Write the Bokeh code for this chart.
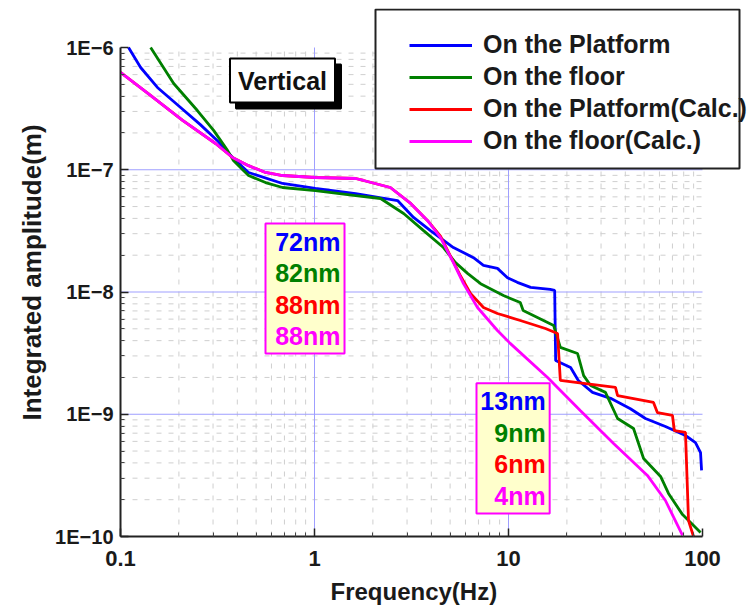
from bokeh.plotting import figure
from bokeh.models import (FixedTicker, CustomJSTickFormatter, Legend, LegendItem,
                          Label, BoxAnnotation, Title)
from bokeh.embed import file_html
from bokeh.resources import INLINE

# ---------------- data (frequency in Hz, integrated amplitude in m) ----------------
freq_platform = [0.110, 0.127, 0.155, 0.204, 0.258, 0.316, 0.382, 0.457, 0.684, 1.01,
                 1.63, 2.68, 3.24, 3.96, 5.20, 6.60, 7.43, 8.77, 9.88, 11.1,
                 13.0, 16.4, 17.3, 17.5, 20.9, 22.9, 27.1, 33.6, 42.5, 50.8,
                 64.4, 81.7, 92.0, 97.7, 98.9]
amp_platform = [1.0e-6, 6.86e-7, 4.71e-7, 3.23e-7, 2.34e-7, 1.73e-7, 1.24e-7, 9.50e-8, 7.72e-8, 7.03e-8,
                6.39e-8, 5.60e-8, 4.07e-8, 3.18e-8, 2.31e-8, 1.91e-8, 1.65e-8, 1.56e-8, 1.31e-8, 1.20e-8,
                1.09e-8, 1.05e-8, 1.03e-8, 2.75e-9, 2.41e-9, 1.89e-9, 1.51e-9, 1.35e-9, 1.11e-9, 9.23e-10,
                7.94e-10, 6.70e-10, 5.87e-10, 4.86e-10, 3.47e-10]

freq_floor = [0.143, 0.188, 0.249, 0.302, 0.356, 0.382, 0.457, 0.559, 0.684, 1.01,
              1.63, 2.19, 2.88, 3.65, 4.62, 5.33, 6.15, 7.18, 9.42, 11.5,
              11.9, 17.1, 18.5, 22.7, 24.4, 26.5, 31.6, 36.5, 44.1, 49.7,
              60.8, 66.8, 78.9, 97.7]
amp_floor = [1.0e-6, 5.08e-7, 3.05e-7, 2.10e-7, 1.44e-7, 1.19e-7, 8.97e-8, 7.86e-8, 7.16e-8, 6.76e-8,
             6.15e-8, 5.82e-8, 4.39e-8, 3.18e-8, 2.31e-8, 1.74e-8, 1.42e-8, 1.17e-8, 9.36e-9, 8.20e-9,
             7.06e-9, 5.32e-9, 3.52e-9, 3.14e-9, 2.07e-9, 1.72e-9, 1.51e-9, 9.23e-10, 7.64e-10, 4.35e-10,
             3.10e-10, 2.25e-10, 1.51e-10, 1.08e-10]

freq_platform_calc = [0.1, 0.139, 0.209, 0.309, 0.378, 0.457, 0.559, 0.684, 1.01, 1.63,
                      1.79, 2.46, 3.13, 3.82, 4.46, 5.66, 6.37, 7.43, 8.77, 11.5,
                      15.5, 17.9, 18.5, 24.4, 35.6, 36.5, 55.9, 58.6, 70.0, 71.6,
                      81.7, 84.7, 89.9]
amp_platform_calc = [6.25e-7, 4.20e-7, 2.53e-7, 1.64e-7, 1.26e-7, 1.08e-7, 9.50e-8, 8.97e-8, 8.64e-8, 8.48e-8,
                     8.17e-8, 7.16e-8, 5.30e-8, 3.85e-8, 2.86e-8, 1.35e-8, 9.72e-9, 7.47e-9, 6.67e-9, 5.85e-9,
                     5.03e-9, 4.58e-9, 1.89e-9, 1.79e-9, 1.66e-9, 1.42e-9, 1.25e-9, 1.03e-9, 9.77e-10, 7.36e-10,
                     7.10e-10, 1.35e-10, 1.0e-10]

freq_floor_calc = [0.1, 0.139, 0.209, 0.309, 0.378, 0.457, 0.559, 0.684, 1.01, 1.63,
                   1.79, 2.46, 3.13, 3.82, 4.46, 5.20, 5.86, 6.92, 8.77, 10.2,
                   15.9, 23.5, 34.8, 52.0, 64.4, 78.9]
amp_floor_calc = [6.25e-7, 4.20e-7, 2.53e-7, 1.64e-7, 1.26e-7, 1.08e-7, 9.50e-8, 8.97e-8, 8.64e-8, 8.48e-8,
                  8.17e-8, 7.16e-8, 5.30e-8, 3.85e-8, 2.79e-8, 1.74e-8, 1.17e-8, 7.47e-9, 4.84e-9, 3.80e-9,
                  2.00e-9, 1.07e-9, 5.77e-10, 3.16e-10, 1.97e-10, 1.02e-10]

series_names = ["On the Platform", "On the floor", "On the Platform(Calc.)", "On the floor(Calc.)"]
series_colors = ["#0000ff", "#008000", "#ff0000", "#ff00ff"]

rms_low = ["72nm", "82nm", "88nm", "88nm"]     # box near 1 Hz
rms_high = ["13nm", "9nm", "6nm", "4nm"]       # box near 10 Hz

x_major_ticks = [0.1, 1, 10, 100]
y_major_ticks = [1e-10, 1e-9, 1e-8, 1e-7, 1e-6]
x_minor_ticks = [k * 10.0 ** e for e in (-1, 0, 1) for k in range(2, 10)]
y_minor_ticks = [k * 10.0 ** e for e in (-10, -9, -8, -7) for k in range(2, 10)]
x_grid_major = [1, 10]
y_grid_major = [1e-9, 1e-8, 1e-7]

FONT = "Liberation Sans"
LINE_W = 2.8

# ---------------- geometry ----------------
# The frame is made large enough to hold the legend box (which in the original
# sits partly above/right of the axes); axes and grid are bounded to the data box.
FIG_W, FIG_H = 752, 612
BORDER_L, BORDER_R, BORDER_T, BORDER_B = 120, 4, 8, 76
FRAME_W = FIG_W - BORDER_L - BORDER_R
FRAME_H = FIG_H - BORDER_T - BORDER_B
PX_PER_DECADE_X, PX_PER_DECADE_Y = 194.0, 122.25
x_lo, y_lo = x_major_ticks[0], y_major_ticks[0]
x_hi = x_lo * 10 ** (FRAME_W / PX_PER_DECADE_X)
y_hi = y_lo * 10 ** (FRAME_H / PX_PER_DECADE_Y)


def fx(px):   # frame pixel (from left) -> frequency
    return x_lo * 10 ** (px / PX_PER_DECADE_X)


def fy(py):   # frame pixel (from bottom) -> amplitude
    return y_lo * 10 ** (py / PX_PER_DECADE_Y)


p = figure(width=FIG_W, height=FIG_H, x_axis_type="log", y_axis_type="log",
           x_range=(x_lo, x_hi), y_range=(y_lo, y_hi),
           output_backend="svg", toolbar_location=None,
           min_border_left=BORDER_L, min_border_right=BORDER_R,
           min_border_top=BORDER_T, min_border_bottom=BORDER_B)
p.outline_line_color = None
p.background_fill_color = "white"
p.border_fill_color = "white"
p.xgrid.visible = False
p.ygrid.visible = False

# ---------------- axes ----------------
for ax in (p.xaxis[0], p.yaxis[0]):
    ax.axis_line_color = "#222222"
    ax.axis_line_width = 2
    ax.major_tick_line_color = "#222222"
    ax.minor_tick_line_color = "#444444"
    ax.major_tick_line_width = 1.5
    ax.minor_tick_line_width = 1
    ax.major_tick_in = 8
    ax.major_tick_out = 0
    ax.minor_tick_in = 4
    ax.minor_tick_out = 0
    ax.major_label_text_font = FONT
    ax.major_label_text_font_style = "bold"
    ax.major_label_text_color = "#1a1a1a"
    ax.axis_label_text_font = FONT
    ax.axis_label_text_font_style = "bold"
    ax.axis_label_text_color = "#1a1a1a"

p.xaxis[0].major_label_text_font_size = "22px"
p.yaxis[0].major_label_text_font_size = "20px"
p.xaxis[0].bounds = (x_major_ticks[0], x_major_ticks[-1])
p.yaxis[0].bounds = (y_major_ticks[0], y_major_ticks[-1])
p.xaxis[0].ticker = FixedTicker(ticks=x_major_ticks, minor_ticks=x_minor_ticks)
p.yaxis[0].ticker = FixedTicker(ticks=y_major_ticks, minor_ticks=y_minor_ticks)
p.xaxis[0].formatter = CustomJSTickFormatter(code="return tick < 1 ? tick.toFixed(1) : tick.toFixed(0);")
p.yaxis[0].formatter = CustomJSTickFormatter(code="return '1E\u2212' + Math.round(-Math.log10(tick));")
p.xaxis[0].major_label_standoff = 14
p.yaxis[0].major_label_standoff = 7

p.yaxis[0].axis_label = "Integrated amplitude(m)"
p.yaxis[0].axis_label_text_font_size = "26px"
p.yaxis[0].axis_label_standoff = 5

x_title = Title(text="Frequency(Hz)", align="left", offset=210, standoff=14,
                text_font=FONT, text_font_size="24px", text_font_style="bold",
                text_color="#1a1a1a")
p.add_layout(x_title, "below")

# ---------------- grid (bounded to the data box) ----------------
xb0, xb1 = x_major_ticks[0], x_major_ticks[-1]
yb0, yb1 = y_major_ticks[0], y_major_ticks[-1]
p.segment(x0=x_minor_ticks, y0=[yb0] * len(x_minor_ticks), x1=x_minor_ticks, y1=[yb1] * len(x_minor_ticks),
          line_color="#cfcfcf", line_width=1, line_dash="5 7")
p.segment(x0=[xb0] * len(y_minor_ticks), y0=y_minor_ticks, x1=[xb1] * len(y_minor_ticks), y1=y_minor_ticks,
          line_color="#cfcfcf", line_width=1, line_dash="5 7")
p.segment(x0=x_grid_major, y0=[yb0] * len(x_grid_major), x1=x_grid_major, y1=[yb1] * len(x_grid_major),
          line_color="#9f9fff", line_width=1)
p.segment(x0=[xb0] * len(y_grid_major), y0=y_grid_major, x1=[xb1] * len(y_grid_major), y1=y_grid_major,
          line_color="#9f9fff", line_width=1)

# ---------------- lines ----------------
r_pf = p.line(freq_platform, amp_platform, line_color=series_colors[0], line_width=LINE_W)
r_fl = p.line(freq_floor, amp_floor, line_color=series_colors[1], line_width=LINE_W)
r_pc = p.line(freq_platform_calc, amp_platform_calc, line_color=series_colors[2], line_width=LINE_W)
r_fc = p.line(freq_floor_calc, amp_floor_calc, line_color=series_colors[3], line_width=LINE_W)
renderers = [r_pf, r_fl, r_pc, r_fc]

# ---------------- legend (box drawn separately, entries on top) ----------------
p.add_layout(BoxAnnotation(left=fx(255), right=fx(619), top=fy(527), bottom=fy(368),
                           fill_color="white", fill_alpha=1.0,
                           line_color="#222222", line_width=2, line_alpha=1.0))
legend = Legend(items=[LegendItem(label=n, renderers=[r]) for n, r in zip(series_names, renderers)],
                location=(289, 381), margin=0, padding=0,
                glyph_width=63, glyph_height=20, label_height=20, label_standoff=11, spacing=3,
                label_text_font=FONT, label_text_font_size="25px", label_text_font_style="bold",
                label_text_color="#1a1a1a",
                border_line_color=None, background_fill_alpha=0.0)
p.add_layout(legend)

# ---------------- "Vertical" tag with drop shadow ----------------
tag_x, tag_y = 0.684, 5.37e-7
p.add_layout(Label(x=tag_x, y=tag_y, x_offset=6, y_offset=-6, text="Vertical",
                   text_font=FONT, text_font_size="25px", text_font_style="bold",
                   text_color="black", text_align="center", text_baseline="middle",
                   background_fill_color="black", border_line_color="black", border_line_width=2,
                   padding=8))
p.add_layout(Label(x=tag_x, y=tag_y, text="Vertical",
                   text_font=FONT, text_font_size="25px", text_font_style="bold",
                   text_color="#111111", text_align="center", text_baseline="middle",
                   background_fill_color="white", border_line_color="black", border_line_width=2,
                   padding=8))

# ---------------- rms boxes ----------------
boxes = [
    (0.559, 1.428, 3.63e-8, 3.14e-9, rms_low),
    (6.84, 16.3, 1.79e-9, 1.54e-10, rms_high),
]
for left, right, top, bottom, texts in boxes:
    p.add_layout(BoxAnnotation(left=left, right=right, top=top, bottom=bottom,
                               fill_color="#ffffcc", fill_alpha=1.0,
                               line_color="#ff00ff", line_width=2, line_alpha=1.0))
    for i, (t, c) in enumerate(zip(texts, series_colors)):
        p.add_layout(Label(x=right, y=top, x_offset=-4, y_offset=-(18 + 31.5 * i), text=t,
                           text_font=FONT, text_font_size="25px", text_font_style="bold",
                           text_color=c, text_align="right", text_baseline="middle"))

open("out.html", "w").write(file_html(p, INLINE))
